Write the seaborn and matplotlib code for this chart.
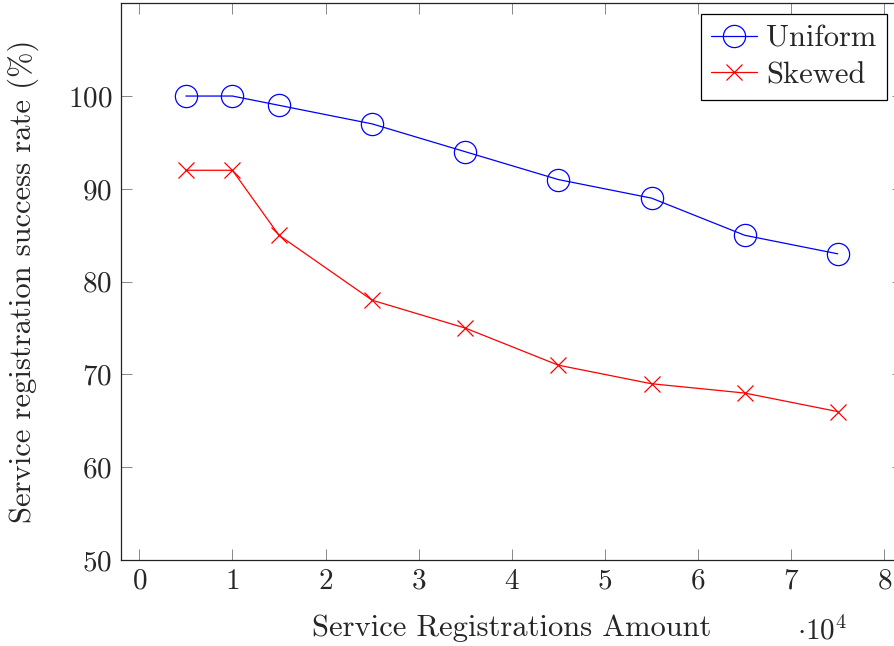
import matplotlib
matplotlib.use("Agg")
import matplotlib.pyplot as plt
import pandas as pd
import seaborn as sns

sns.set_style("ticks")
fontsize = 22
plt.rcParams['font.family'] = 'serif'
plt.rcParams['font.serif'] = ['cmr10', 'DejaVu Serif']
plt.rcParams['mathtext.fontset'] = 'cm'
plt.rcParams['axes.formatter.use_mathtext'] = True
plt.rcParams['axes.unicode_minus'] = False
plt.rcParams['font.size'] = fontsize

# registrations (x 10^4)
amounts = [0.5, 1, 1.5, 2.5, 3.5, 4.5, 5.5, 6.5, 7.5]
uniform = [100, 100, 99, 97, 94, 91, 89, 85, 83]
skewed = [92, 92, 85, 78, 75, 71, 69, 68, 66]

df_u = pd.DataFrame({"amount": amounts, "rate": uniform})
df_s = pd.DataFrame({"amount": amounts, "rate": skewed})

fig = plt.figure(figsize=(8.94, 6.46), dpi=100)
# axes runs a bit past the right edge, like the cropped original
ax = fig.add_axes([0.135, 0.133, 0.875, 0.862])

sns.lineplot(data=df_u, x="amount", y="rate", ax=ax, color="blue", marker="o",
             markersize=16, markerfacecolor="none", markeredgecolor="blue",
             markeredgewidth=0.9, linewidth=0.9, label="Uniform")
sns.lineplot(data=df_s, x="amount", y="rate", ax=ax, color="red", marker="x",
             markersize=11, markeredgecolor="red", markeredgewidth=0.9,
             linewidth=0.9, label="Skewed")

ax.set_xlim(-0.2, 8.2)
ax.set_ylim(50, 110)
ax.set_xticks(range(0, 9))
ax.set_yticks(range(50, 101, 10))
ax.tick_params(direction="in", length=8, width=0.7, color="#888888",
               top=True, right=True, labelsize=21, pad=6)
for s in ax.spines.values():
    s.set_linewidth(0.9)
    s.set_color("#222222")

ax.set_xlabel("Service Registrations Amount", fontsize=fontsize, labelpad=14)
ax.set_ylabel("Service registration success rate (%)", fontsize=fontsize, labelpad=21)
ax.text(0.897, -0.127, r"$\cdot 10^4$", transform=ax.transAxes,
        fontsize=21, ha="center", va="center")

leg = ax.legend(loc="upper right", bbox_to_anchor=(0.98, 0.98), borderaxespad=0,
                fancybox=False, framealpha=1, edgecolor="black",
                handlelength=1.5, handletextpad=0.3, borderpad=0.35,
                labelspacing=0.3, fontsize=22)
leg.get_frame().set_linewidth(0.9)

fig.savefig("out.png", dpi=100)
